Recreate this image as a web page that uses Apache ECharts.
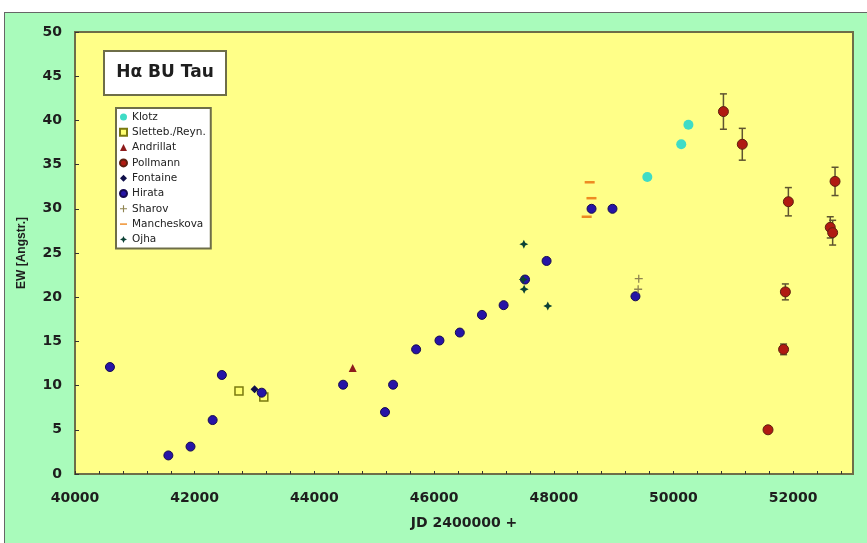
<!DOCTYPE html>
<html>
<head>
<meta charset="utf-8">
<script src="https://cdn.jsdelivr.net/npm/echarts@6/dist/echarts.min.js"></script>
<style>
html,body{margin:0;padding:0;background:#fff;}
#frame{position:absolute;left:4px;top:12px;width:870px;height:540px;background:#A9FBBB;border:1px solid #666;}
#chart{position:absolute;left:0;top:0;width:867px;height:543px;}
</style>
</head>
<body>
<div id="frame"></div>
<div id="chart"></div>
<script>
// ---- data (JD 2400000+, EW in Angstrom) ----
const seriesNames = ['Klotz','Sletteb./Reyn.','Andrillat','Pollmann','Fontaine','Hirata','Sharov','Mancheskova','Ojha'];
const klotzJD = [49563, 50130, 50250];
const klotzEW = [33.6, 37.3, 39.5];
const slettebJD = [42740, 43155];
const slettebEW = [9.4, 8.7];
const andrillatJD = [44640];
const andrillatEW = [12.0];
const pollmannJD = [50835, 51150, 51580, 51840, 51870, 51920, 52620, 52660, 52700];
const pollmannEW = [41.0, 37.3, 5.0, 14.1, 20.6, 30.8, 27.9, 27.3, 33.1];
const pollmannErr = [2.0, 1.8, 0, 0.6, 0.9, 1.6, 1.2, 1.4, 1.6];
const fontaineJD = [43000];
const fontaineEW = [9.6];
const hirataJD = [40584, 41560, 41930, 42300, 42454, 43120, 44480, 45180, 45315, 45700, 46090, 46430, 46800, 47162, 47520, 47880, 48631, 48981, 49365];
const hirataEW = [12.1, 2.1, 3.1, 6.1, 11.2, 9.2, 10.1, 7.0, 10.1, 14.1, 15.1, 16.0, 18.0, 19.1, 22.0, 24.1, 30.0, 30.0, 20.1];
const sharovJD = [49420, 49410];
const sharovEW = [22.1, 20.9];
const manchJD = [48600, 48630, 48550];
const manchEW = [33.0, 31.2, 29.1];
const ojhaJD = [47500, 47490, 47505, 47900];
const ojhaEW = [26.0, 22.0, 20.9, 19.0];
const xTickLabels = [40000, 42000, 44000, 46000, 48000, 50000, 52000];

function pts(xs, ys){ return xs.map((x,i)=>[x, ys[i]]); }

const chart = echarts.init(document.getElementById('chart'));
const arial = 'Arial, "Liberation Sans", sans-serif';
const wide = '"DejaVu Sans", Verdana, sans-serif';
const starPath = 'path://M0,-5 L1.6,-1.6 L5,0 L1.6,1.6 L0,5 L-1.6,1.6 L-5,0 L-1.6,-1.6 Z';
const plusPath = 'path://M-0.8,-5 H0.8 V-0.8 H5 V0.8 H0.8 V5 H-0.8 V0.8 H-5 V-0.8 H-0.8 Z';
const dashPath = 'path://M0,0 H10 V2 H0 Z';
const edge = '#6e6e48';
const txt = '#1e1e1e';

const option = {
  backgroundColor: 'transparent',
  animation: false,
  textStyle: {fontFamily: wide},
  grid: {left: 75, right: 14, top: 32, bottom: 69, show: true, backgroundColor: '#FFFF88', borderColor: edge, borderWidth: 2},
  graphic: [
    {type: 'group', left: 103, top: 50, z: 100, children: [
      {type: 'rect', shape: {x: 0, y: 0, width: 122, height: 44}, style: {fill: '#fff', stroke: edge, lineWidth: 2}},
      {type: 'text', x: 61, y: 22, style: {text: 'Hα BU Tau', font: 'bold 17px ' + wide, fill: txt, align: 'center', verticalAlign: 'middle'}}
    ]}
  ],
  legend: {
    orient: 'vertical', left: 116, top: 108,
    backgroundColor: '#fff', borderColor: edge, borderWidth: 2,
    padding: [3, 5, 3, 3], itemGap: 3.3, itemWidth: 7, itemHeight: 7,
    textStyle: {fontSize: 10.5, color: '#222', lineHeight: 12, fontFamily: wide},
    data: seriesNames.map(n => n === 'Mancheskova' ? {name: n, icon: dashPath} : n)
  },
  xAxis: {
    type: 'value', min: 40000, max: 53000, interval: 400,
    name: 'JD 2400000 +', nameLocation: 'middle', nameGap: 42,
    nameTextStyle: {fontSize: 14, fontWeight: 'bold', color: txt, fontFamily: wide},
    axisLine: {lineStyle: {color: edge, width: 2}},
    axisTick: {inside: true, length: 3, lineStyle: {color: '#333'}},
    axisLabel: {fontSize: 14, fontWeight: 'bold', color: txt, margin: 17, showMaxLabel: false, fontFamily: wide,
      formatter: v => (xTickLabels.indexOf(v) >= 0 ? String(v) : '')},
    splitLine: {show: false}
  },
  yAxis: {
    type: 'value', min: 0, max: 50, interval: 5,
    name: 'EW [Angstr.]', nameLocation: 'middle', nameGap: 47,
    nameTextStyle: {fontSize: 12, fontWeight: 'bold', color: txt, fontFamily: arial},
    axisLine: {show: true, lineStyle: {color: edge, width: 2}},
    axisTick: {show: true, inside: true, length: 4, lineStyle: {color: '#333'}},
    axisLabel: {fontSize: 14, fontWeight: 'bold', color: txt, margin: 13, fontFamily: wide},
    splitLine: {show: false}
  },
  series: [
    {type: 'custom', name: 'PollmannErr', silent: true, z: 1,
      data: pollmannJD.map((x,i)=>[x, pollmannEW[i], pollmannErr[i]]),
      renderItem: function(params, api){
        const x = api.value(0), y = api.value(1), e = api.value(2);
        if (!e) return {type: 'group', children: []};
        const top = api.coord([x, y + e]), bot = api.coord([x, y - e]);
        const style = {stroke: '#5e5430', lineWidth: 1.5};
        return {type: 'group', children: [
          {type: 'line', shape: {x1: top[0], y1: top[1], x2: bot[0], y2: bot[1]}, style: style},
          {type: 'line', shape: {x1: top[0]-3.5, y1: top[1], x2: top[0]+3.5, y2: top[1]}, style: style},
          {type: 'line', shape: {x1: bot[0]-3.5, y1: bot[1], x2: bot[0]+3.5, y2: bot[1]}, style: style}
        ]};
      }
    },
    {type: 'scatter', name: 'Klotz', data: pts(klotzJD, klotzEW), symbol: 'circle', symbolSize: 10,
      itemStyle: {color: '#3fdcc6', opacity: 1}, z: 3},
    {type: 'scatter', name: 'Sletteb./Reyn.', data: pts(slettebJD, slettebEW), symbol: 'rect', symbolSize: 8,
      itemStyle: {color: '#ffff70', borderColor: '#7a7a10', borderWidth: 1.5, opacity: 1}, z: 3},
    {type: 'scatter', name: 'Andrillat', data: pts(andrillatJD, andrillatEW), symbol: 'triangle', symbolSize: 8,
      itemStyle: {color: '#8e1c1c', opacity: 1}, z: 3},
    {type: 'scatter', name: 'Pollmann', data: pts(pollmannJD, pollmannEW), symbol: 'circle', symbolSize: 10,
      itemStyle: {color: '#b01a12', borderColor: '#5e2010', borderWidth: 1, opacity: 1}, z: 3},
    {type: 'scatter', name: 'Fontaine', data: pts(fontaineJD, fontaineEW), symbol: 'diamond', symbolSize: 8,
      itemStyle: {color: '#10104a', opacity: 1}, z: 4},
    {type: 'scatter', name: 'Hirata', data: pts(hirataJD, hirataEW), symbol: 'circle', symbolSize: 9,
      itemStyle: {color: '#2614a6', borderColor: '#160a50', borderWidth: 1, opacity: 1}, z: 3},
    {type: 'scatter', name: 'Sharov', data: pts(sharovJD, sharovEW), symbol: plusPath, symbolSize: 8,
      itemStyle: {color: '#8f8450', opacity: 1}, z: 4},
    {type: 'scatter', name: 'Mancheskova', data: pts(manchJD, manchEW), symbol: 'rect', symbolSize: [10, 2.5],
      itemStyle: {color: '#ee8a22', opacity: 1}, z: 4},
    {type: 'scatter', name: 'Ojha', data: pts(ojhaJD, ojhaEW), symbol: starPath, symbolSize: 9,
      itemStyle: {color: '#0c4236', opacity: 1}, z: 5}
  ]
};
chart.setOption(option);
</script>
</body>
</html>
